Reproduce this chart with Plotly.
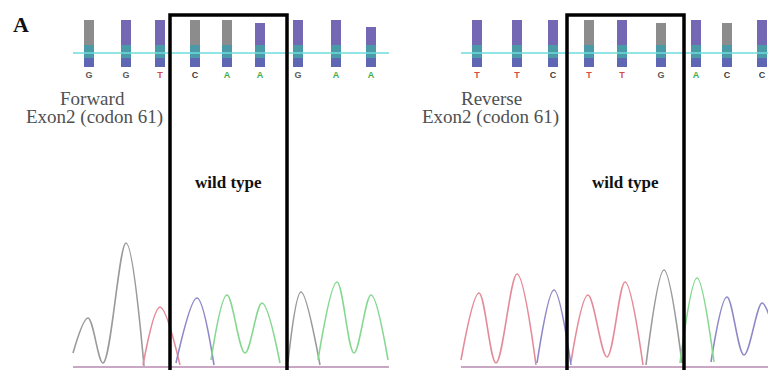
import plotly.graph_objects as go

# ---------------- data (scan position, signal value) ----------------
left_bases = ["G", "G", "T", "C", "A", "A", "G", "A", "A"]
left_pos = [89, 126, 160, 195, 227, 260, 298, 336, 371]
left_quality = [350, 350, 350, 350, 350, 347, 350, 350, 343]
left_bar_top = ["gray", "purple", "purple", "gray", "gray", "purple", "purple", "purple", "purple"]

right_bases = ["T", "T", "C", "T", "T", "G", "A", "C", "C"]
right_pos = [477, 517, 553, 589, 622, 661, 696, 727, 762]
right_quality = [350, 350, 350, 350, 350, 347, 350, 347, 350]
right_bar_top = ["purple", "purple", "purple", "gray", "purple", "gray", "purple", "gray", "purple"]

# chromatogram traces: peak / valley points
left_G_x = [73, 88, 103, 126, 144, None, 288, 301, 320]
left_G_y = [17, 52, 7, 127, 4, None, 8, 78, 5]
left_T_x = [143, 160, 180]
left_T_y = [5, 63, 5]
left_C_x = [176, 197, 214]
left_C_y = [7, 72, 5]
left_A_x = [211, 227, 245, 262, 280, None, 318, 337, 354, 371, 388]
left_A_y = [10, 75, 17, 67, 7, None, 10, 88, 17, 75, 10]

right_T_x = [461, 479, 496, 517, 536, None, 571, 588, 607, 625, 643]
right_T_y = [10, 77, 7, 96, 5, None, 8, 75, 13, 88, 5]
right_C_x = [537, 554, 571, None, 711, 727, 744, 762, 770]
right_C_y = [7, 80, 5, None, 8, 73, 15, 67, 52]
right_G_x = [646, 664, 682]
right_G_y = [5, 100, 7]
right_A_x = [680, 697, 714]
right_A_y = [7, 92, 8]

panel_start = [73, 461]
panel_end = [389, 768]
box_start = [170, 567]
box_end = [287, 684]
panel_titles = ["Forward", "Reverse"]
panel_subtitle = "Exon2 (codon 61)"
box_label = "wild type"
figure_label = "A"

# quality bar segment levels, baseline, reference line
bar_base = 303
bar_mid1 = 312
bar_mid2 = 325
ref_line = 317
letter_level = 294
baseline = 3

# ---------------- styles ----------------
trace_col = {"G": "#9a9a9a", "T": "#e58a98", "C": "#8e88c8", "A": "#86d890"}
letter_col = {"G": "#5a5a5a", "T": "#d84a4a", "C": "#404040", "A": "#3fae4a"}
bar_top_col = {"gray": "#8c8c8c", "purple": "#7468b4"}
serif = "Liberation Serif"

fig = go.Figure()

def add_panel(pos, qual, bases, tops, traces, start, end):
    # quality bars: bottom, middle (teal), top
    fig.add_trace(go.Bar(x=pos, y=[bar_mid1 - bar_base] * len(pos), base=[bar_base] * len(pos),
                         width=10, marker=dict(color="#5f66b4", line=dict(width=0))))
    fig.add_trace(go.Bar(x=pos, y=[bar_mid2 - bar_mid1] * len(pos), base=[bar_mid1] * len(pos),
                         width=10, marker=dict(color="#4a9aa8", line=dict(width=0))))
    fig.add_trace(go.Bar(x=pos, y=[q - bar_mid2 for q in qual], base=[bar_mid2] * len(pos),
                         width=10, marker=dict(color=[bar_top_col[t] for t in tops], line=dict(width=0))))
    # reference line
    fig.add_trace(go.Scatter(x=[start, end], y=[ref_line, ref_line], mode="lines",
                             line=dict(color="#6edcdc", width=1.5)))
    # base letters
    fig.add_trace(go.Scatter(x=pos, y=[letter_level] * len(pos), mode="text", text=bases,
                             textfont=dict(family="Liberation Sans", size=9, weight="bold",
                                           color=[letter_col[b] for b in bases])))
    # baseline
    fig.add_trace(go.Scatter(x=[start, end], y=[baseline, baseline], mode="lines",
                             line=dict(color="#c9a6c4", width=2)))
    # traces
    for base, (xs, ys) in traces.items():
        fig.add_trace(go.Scatter(x=xs, y=ys, mode="lines", connectgaps=False,
                                 line=dict(color=trace_col[base], width=1.6, shape="spline", smoothing=1.0)))

add_panel(left_pos, left_quality, left_bases, left_bar_top,
          {"G": (left_G_x, left_G_y), "T": (left_T_x, left_T_y),
           "C": (left_C_x, left_C_y), "A": (left_A_x, left_A_y)},
          panel_start[0], panel_end[0])
add_panel(right_pos, right_quality, right_bases, right_bar_top,
          {"T": (right_T_x, right_T_y), "C": (right_C_x, right_C_y),
           "G": (right_G_x, right_G_y), "A": (right_A_x, right_A_y)},
          panel_start[1], panel_end[1])

title_x = [92, 491]
sub_x = [94, 490]
for i in range(2):
    fig.add_shape(type="rect", x0=box_start[i], x1=box_end[i], y0=-20, y1=355,
                  line=dict(color="black", width=3.5), fillcolor="rgba(0,0,0,0)", layer="above")
    fig.add_annotation(x=title_x[i], y=272, text=panel_titles[i], showarrow=False,
                       font=dict(family=serif, size=19, color="#505050"))
    fig.add_annotation(x=sub_x[i], y=253, text=panel_subtitle, showarrow=False,
                       font=dict(family=serif, size=19, color="#505050"))
    fig.add_annotation(x=(box_start[i] + box_end[i]) / 2, y=188, text=box_label, showarrow=False,
                       font=dict(family=serif, size=17, color="#111111", weight="bold"))

fig.add_annotation(x=21, y=346, text=figure_label, showarrow=False,
                   font=dict(family=serif, size=22, color="#111111", weight="bold"))

fig.update_layout(
    width=768, height=370, margin=dict(l=0, r=0, t=0, b=0),
    paper_bgcolor="white", plot_bgcolor="white",
    showlegend=False, barmode="overlay", hovermode=False,
    xaxis=dict(range=[0, 768], visible=False, fixedrange=True),
    yaxis=dict(range=[0, 370], visible=False, fixedrange=True),
)

fig.write_html("out.html", config={"displayModeBar": False},
               post_script="document.body.style.margin='0';document.body.style.overflow='hidden';")
